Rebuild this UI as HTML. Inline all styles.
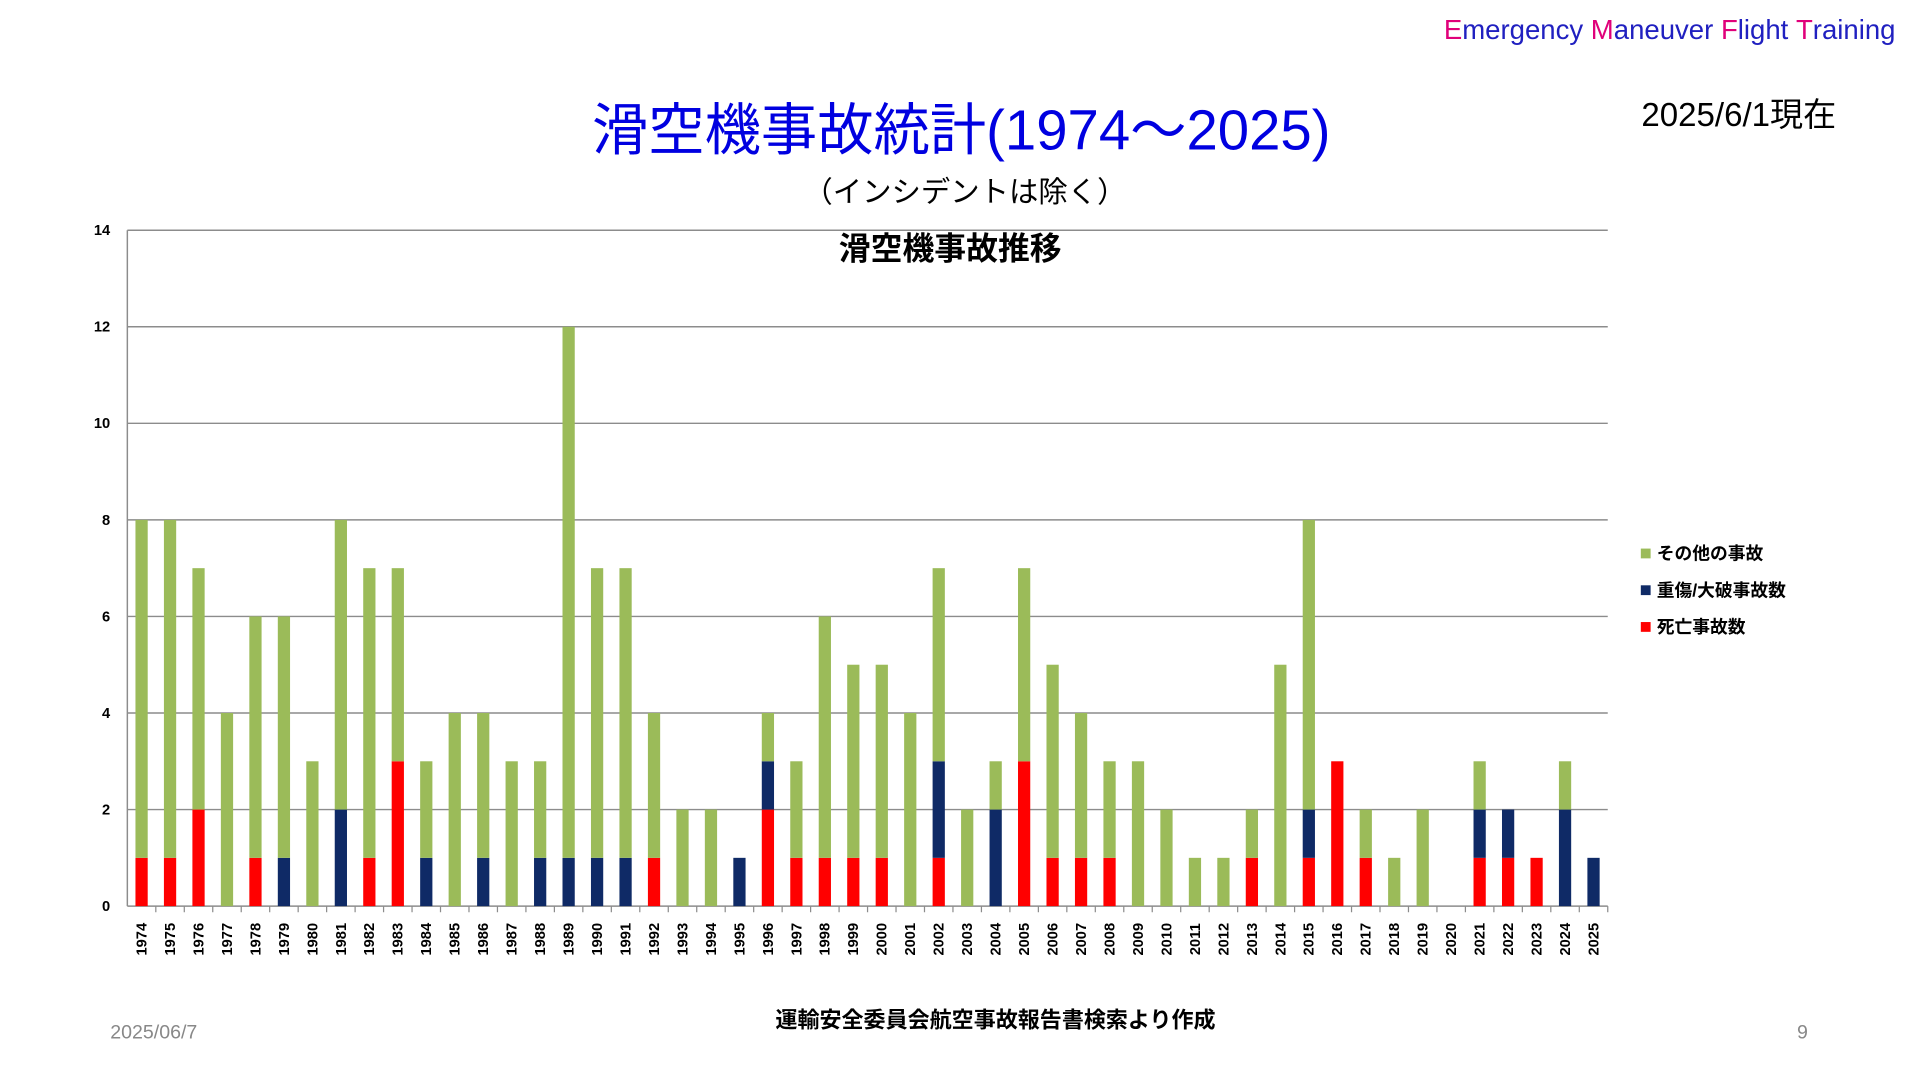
<!DOCTYPE html>
<html><head><meta charset="utf-8">
<style>
html,body{margin:0;padding:0;background:#fff;}
svg{display:block;}
text{font-family:"Liberation Sans","Noto Sans CJK JP",sans-serif;}
</style></head>
<body>
<svg id="chart" width="1920" height="1080" viewBox="0 0 1568 882" xmlns="http://www.w3.org/2000/svg">
<text x="1548" y="32" text-anchor="end" font-size="22.5"><tspan fill="#e0007a">E</tspan><tspan fill="#2020c0">mergency </tspan><tspan fill="#e0007a">M</tspan><tspan fill="#2020c0">aneuver </tspan><tspan fill="#e0007a">F</tspan><tspan fill="#2020c0">light </tspan><tspan fill="#e0007a">T</tspan><tspan fill="#2020c0">raining</tspan></text>
<text x="785" y="122" text-anchor="middle" font-size="46" fill="#0000e0">滑空機事故統計(1974～2025)</text>
<text x="1420" y="103" text-anchor="middle" font-size="27" fill="#000">2025/6/1現在</text>
<text x="788" y="165" text-anchor="middle" font-size="24" fill="#000">（インシデントは除く）</text>
<g id="grid"></g>
<g id="bars"></g>
<g id="axes"></g>
<text x="776" y="212" text-anchor="middle" font-size="26" font-weight="bold" fill="#000">滑空機事故推移</text>
<g font-weight="bold">
<rect x="1340" y="448" width="8" height="8" fill="#9BBB59"/><text x="1353" y="457" font-size="14.5" fill="#000">その他の事故</text>
<rect x="1340" y="478" width="8" height="8" fill="#0F2A66"/><text x="1353" y="487" font-size="14.5" fill="#000">重傷/大破事故数</text>
<rect x="1340" y="508" width="8" height="8" fill="#FF0000"/><text x="1353" y="517" font-size="14.5" fill="#000">死亡事故数</text>
</g>
<text x="90" y="848" font-size="16" fill="#888">2025/06/7</text>
<text x="813" y="839" text-anchor="middle" font-size="18" font-weight="bold" fill="#000">運輸安全委員会航空事故報告書検索より作成</text>
<text x="1472" y="848" text-anchor="middle" font-size="16" fill="#888">9</text>
</svg>
<script>
const years=[];for(let y=1974;y<=2025;y++)years.push(String(y));
const fatal=  [1,1,2,0,1,0,0,0,1,3,0,0,0,0,0,0,0,0,1,0,0,0,2,1,1,1,1,0,1,0,0,3,1,1,1,0,0,0,0,1,0,1,3,1,0,0,0,1,1,1,0,0];
const serious=[0,0,0,0,0,1,0,2,0,0,1,0,1,0,1,1,1,1,0,0,0,1,1,0,0,0,0,0,2,0,2,0,0,0,0,0,0,0,0,0,0,1,0,0,0,0,0,1,1,0,2,1];
const other=  [7,7,5,4,5,5,3,6,6,4,2,4,3,3,2,11,6,6,3,2,2,0,1,2,5,4,4,4,4,2,1,4,4,3,2,3,2,1,1,1,5,6,0,1,1,2,0,1,0,0,1,0];
const yTicks=[0,2,4,6,8,10,12,14];
const L=104,R=1313,T=188,B=740,yMax=14;
const NS="http://www.w3.org/2000/svg";
const yS=v=>B-(v/yMax)*(B-T);
const step=(R-L)/years.length;
const xS=i=>L+step*(i+0.5);
const bw=10;
function mk(tag,attrs,parent){const e=document.createElementNS(NS,tag);for(const k in attrs)e.setAttribute(k,attrs[k]);parent.appendChild(e);return e;}
const grid=document.getElementById('grid'),bars=document.getElementById('bars'),axes=document.getElementById('axes');
yTicks.forEach(t=>{
  const l=mk('line',{x1:L,x2:R,y1:yS(t),y2:yS(t),stroke:'#8c8c8c','stroke-width':1.2},grid);
  
  
  const tx=mk('text',{x:L-14,y:yS(t)+4,'text-anchor':'end','font-size':12,'font-weight':'bold',fill:'#000'},axes);
  tx.textContent=t;
  
  
});
const ax=mk('line',{x1:L,x2:L,y1:T,y2:B,stroke:'#8c8c8c','stroke-width':1.2},axes);


years.forEach((yr,i)=>{
  const x=xS(i);let base=0;
  [[fatal[i],'#FF0000','bar-fatal'],[serious[i],'#0F2A66','bar-serious'],[other[i],'#9BBB59','bar-other']].forEach(([v,c,n])=>{
    if(v>0){const r=mk('rect',{x:x-bw/2,y:yS(base+v),width:bw,height:yS(base)-yS(base+v),fill:c},bars);
      
      }
    base+=v;
  });
  const tk=mk('line',{x1:L+step*(i+1),x2:L+step*(i+1),y1:B,y2:B+5,stroke:'#8c8c8c'},axes);
  
  
  const t=mk('text',{x:0,y:0,'text-anchor':'middle','font-size':12,'font-weight':'bold',fill:'#000',transform:`translate(${x+4},767) rotate(-90)`},axes);
  t.textContent=yr;
  
  
});
</script>
</body></html>
